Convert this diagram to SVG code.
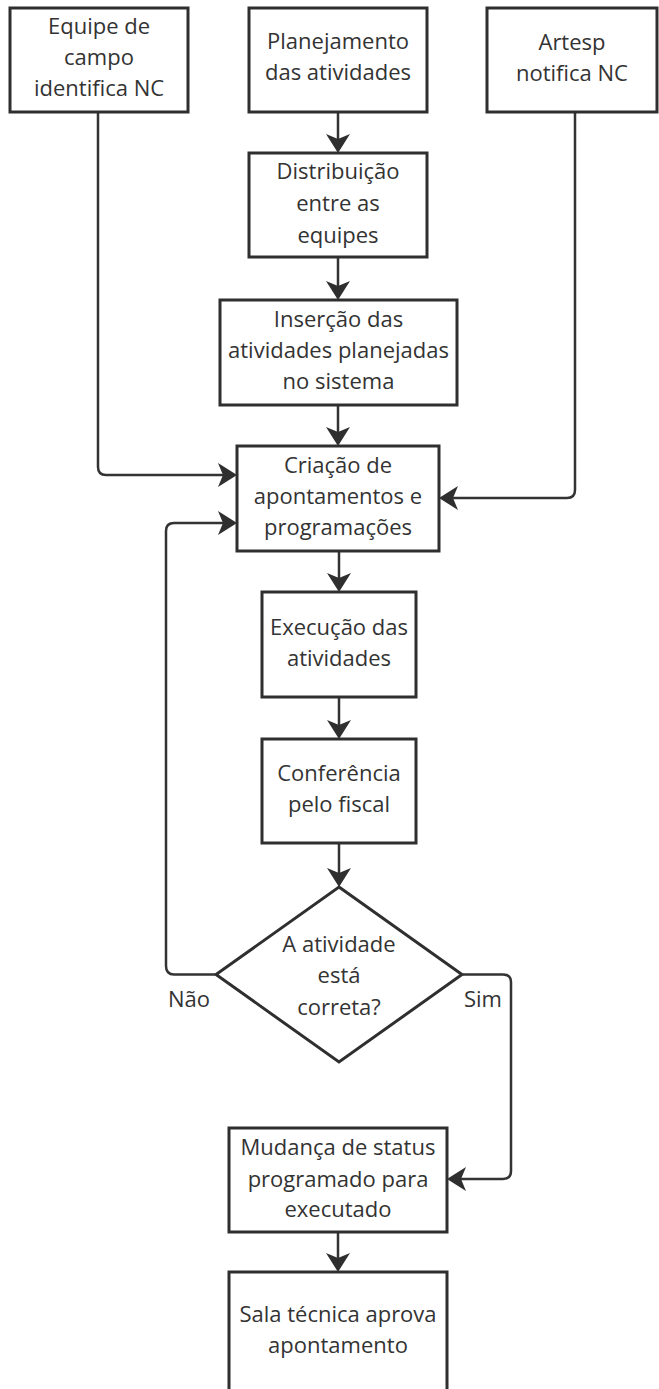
<svg xmlns="http://www.w3.org/2000/svg" width="659" height="1389" viewBox="0 0 659 1389">
<defs>
<style>
.box{fill:#ffffff;stroke:#2f2f2f;stroke-width:3}
.lbl{font-family:"Open Sans","Noto Sans","DejaVu Sans",sans-serif;font-size:22px;fill:#333333;text-anchor:middle}
.edge{fill:none;stroke:#333333;stroke-width:2.5}
</style>
<marker id="arr" markerUnits="userSpaceOnUse" markerWidth="26" markerHeight="26" refX="13" refY="12" orient="auto">
<path d="M0,0 L19,12 L0,24 L5,12 Z" fill="#2f2f2f"/>
</marker>
</defs>
<rect width="659" height="1389" fill="#ffffff"/>
<g id="connectors">
<path class="edge" marker-end="url(#arr)" d="M338,113 V147"/>
<path class="edge" marker-end="url(#arr)" d="M338,258 V294"/>
<path class="edge" marker-end="url(#arr)" d="M338,406 V440"/>
<path class="edge" marker-end="url(#arr)" d="M98,112 V467 Q98,475 106,475 H231"/>
<path class="edge" marker-end="url(#arr)" d="M575,112 V490 Q575,498 567,498 H445"/>
<path class="edge" marker-end="url(#arr)" d="M339,552 V586"/>
<path class="edge" marker-end="url(#arr)" d="M339,698 V733"/>
<path class="edge" marker-end="url(#arr)" d="M339,844 V881"/>
<path class="edge" marker-end="url(#arr)" d="M215,974.5 H174 Q166,974.5 166,966 V531 Q166,523 174,523 H231"/>
<path class="edge" marker-end="url(#arr)" d="M463,974.5 H503 Q511,974.5 511,982 V1171 Q511,1179 503,1179 H453"/>
<path class="edge" marker-end="url(#arr)" d="M338,1233 V1266"/>
<text class="lbl" x="189" y="1007">Não</text>
<text class="lbl" x="483" y="1007">Sim</text>
</g>
<g id="n1">
<rect class="box" x="10" y="8" width="178" height="104"/>
<text class="lbl" x="99" y="34">Equipe de</text>
<text class="lbl" x="99" y="65">campo</text>
<text class="lbl" x="99" y="96">identifica NC</text>
</g>
<g id="n2">
<rect class="box" x="249" y="8" width="178" height="104"/>
<text class="lbl" x="338" y="49">Planejamento</text>
<text class="lbl" x="338" y="80">das atividades</text>
</g>
<g id="n3">
<rect class="box" x="487" y="8" width="170" height="104"/>
<text class="lbl" x="572" y="50">Artesp</text>
<text class="lbl" x="572" y="81">notifica NC</text>
</g>
<g id="n4">
<rect class="box" x="249" y="153" width="178" height="104"/>
<text class="lbl" x="338" y="179">Distribuição</text>
<text class="lbl" x="338" y="211">entre as</text>
<text class="lbl" x="338" y="243">equipes</text>
</g>
<g id="n5">
<rect class="box" x="220" y="300" width="237" height="105"/>
<text class="lbl" x="338.5" y="327">Inserção das</text>
<text class="lbl" x="338.5" y="358">atividades planejadas</text>
<text class="lbl" x="338.5" y="389">no sistema</text>
</g>
<g id="n6">
<rect class="box" x="237" y="446" width="202" height="105"/>
<text class="lbl" x="338" y="473">Criação de</text>
<text class="lbl" x="338" y="504">apontamentos e</text>
<text class="lbl" x="338" y="535">programações</text>
</g>
<g id="n7">
<rect class="box" x="262" y="592" width="154" height="105"/>
<text class="lbl" x="339" y="635">Execução das</text>
<text class="lbl" x="339" y="666">atividades</text>
</g>
<g id="n8">
<rect class="box" x="262" y="739" width="154" height="104"/>
<text class="lbl" x="339" y="781">Conferência</text>
<text class="lbl" x="339" y="812">pelo fiscal</text>
</g>
<g id="n9">
<polygon class="box" points="339,887 462,974.5 339,1062 216,974.5"/>
<text class="lbl" x="339" y="952">A atividade</text>
<text class="lbl" x="339" y="983">está</text>
<text class="lbl" x="339" y="1015">correta?</text>
</g>
<g id="n10">
<rect class="box" x="229" y="1128" width="218" height="104"/>
<text class="lbl" x="338" y="1155">Mudança de status</text>
<text class="lbl" x="338" y="1187">programado para</text>
<text class="lbl" x="338" y="1217">executado</text>
</g>
<g id="n11">
<rect class="box" x="229" y="1272" width="218" height="130"/>
<text class="lbl" x="338" y="1322">Sala técnica aprova</text>
<text class="lbl" x="338" y="1353">apontamento</text>
</g>
</svg>
